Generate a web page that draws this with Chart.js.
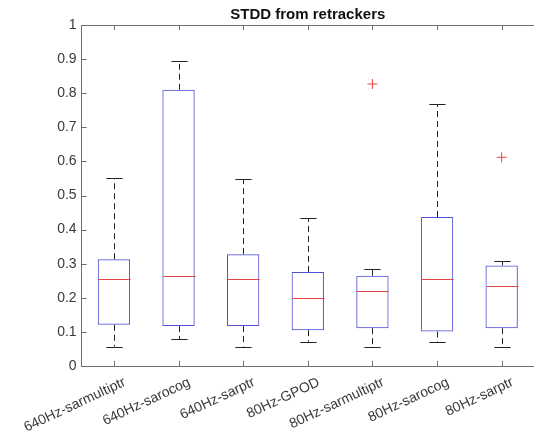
<!DOCTYPE html>
<html>
<head>
<meta charset="utf-8">
<script src="https://cdn.jsdelivr.net/npm/chart.js@4.4.1/dist/chart.umd.min.js"></script>
<style>
  html, body { margin: 0; padding: 0; background: #fff; }
  #wrap { width: 534px; height: 441px; }
</style>
</head>
<body>
<div id="wrap"><canvas id="box" width="534" height="441"></canvas></div>
<script>
// boxplot statistics per retracker
const categories = ['640Hz-sarmultiptr', '640Hz-sarocog', '640Hz-sarptr', '80Hz-GPOD',
                    '80Hz-sarmultiptr', '80Hz-sarocog', '80Hz-sarptr'];
const whiskerLow  = [0.057, 0.078, 0.057, 0.071, 0.055, 0.069, 0.055];
const q1          = [0.121, 0.117, 0.117, 0.105, 0.111, 0.101, 0.111];
const median      = [0.256, 0.265, 0.256, 0.200, 0.220, 0.256, 0.235];
const q3          = [0.313, 0.810, 0.328, 0.276, 0.265, 0.437, 0.295];
const whiskerHigh = [0.551, 0.893, 0.547, 0.433, 0.284, 0.767, 0.307];
const outliers    = [null, null, null, null, 0.827, null, 0.612];

const AXIS = '#6e6e6e';
const TEXT = '#3a3a3a';
const BLUE = 'rgb(80,80,215)';
const RED = 'rgb(232,70,70)';
const FONT = "'Liberation Sans', Arial, Helvetica, sans-serif";

// whiskers, caps, medians and the top edge with inward ticks
const boxExtras = {
  id: 'boxExtras',
  afterDatasetsDraw(chart) {
    const ctx = chart.ctx;
    const xs = chart.scales.x, ys = chart.scales.y;
    const bars = chart.getDatasetMeta(0).data;
    ctx.save();
    categories.forEach((c, i) => {
      const x = Math.round(xs.getPixelForValue(i)) + 0.5;
      const half = bars[i].width / 2;
      const capHalf = half / 2;
      const yLo = ys.getPixelForValue(whiskerLow[i]);
      const yQ1 = ys.getPixelForValue(q1[i]);
      const yQ3 = ys.getPixelForValue(q3[i]);
      const yHi = ys.getPixelForValue(whiskerHigh[i]);
      const yMed = ys.getPixelForValue(median[i]);

      ctx.strokeStyle = '#222';
      ctx.lineWidth = 1;
      ctx.setLineDash([6, 4]);
      ctx.beginPath();
      ctx.moveTo(x, yQ3); ctx.lineTo(x, yHi);
      ctx.moveTo(x, yQ1); ctx.lineTo(x, yLo);
      ctx.stroke();

      ctx.setLineDash([]);
      ctx.beginPath();
      ctx.moveTo(x - capHalf, Math.round(yHi) + 0.5); ctx.lineTo(x + capHalf, Math.round(yHi) + 0.5);
      ctx.moveTo(x - capHalf, Math.round(yLo) + 0.5); ctx.lineTo(x + capHalf, Math.round(yLo) + 0.5);
      ctx.stroke();

      ctx.strokeStyle = RED;
      ctx.beginPath();
      ctx.moveTo(x - half, Math.round(yMed) + 0.5);
      ctx.lineTo(x + half, Math.round(yMed) + 0.5);
      ctx.stroke();
    });
    ctx.restore();
  },
  afterDraw(chart) {
    const ctx = chart.ctx;
    const a = chart.chartArea;
    const xs = chart.scales.x, ys = chart.scales.y;
    const t = 5;
    ctx.save();
    ctx.strokeStyle = AXIS;
    ctx.lineWidth = 1;
    ctx.beginPath();
    // top edge of the box (right edge sits at the canvas border)
    ctx.moveTo(a.left, Math.round(a.top) + 0.5);
    ctx.lineTo(a.right, Math.round(a.top) + 0.5);
    ys.ticks.forEach((tk, i) => {
      const y = Math.round(ys.getPixelForTick(i)) + 0.5;
      ctx.moveTo(a.left, y); ctx.lineTo(a.left + t, y);
    });
    xs.ticks.forEach((tk, i) => {
      const x = Math.round(xs.getPixelForValue(i)) + 0.5;
      ctx.moveTo(x, a.bottom); ctx.lineTo(x, a.bottom - t);
      ctx.moveTo(x, a.top); ctx.lineTo(x, a.top + t);
    });
    ctx.stroke();
    ctx.restore();
  }
};

new Chart(document.getElementById('box'), {
  type: 'bar',
  data: {
    labels: categories,
    datasets: [
      {
        data: q1.map((v, i) => [v, q3[i]]),
        backgroundColor: 'rgba(0,0,0,0)',
        borderColor: BLUE,
        borderWidth: 1,
        borderSkipped: false,
        barPercentage: 0.5,
        categoryPercentage: 1
      },
      {
        type: 'line',
        data: outliers,
        showLine: false,
        pointStyle: 'cross',
        pointRadius: 5,
        pointBorderWidth: 1,
        borderColor: RED,
        backgroundColor: RED
      }
    ]
  },
  options: {
    responsive: false,
    animation: false,
    layout: { autoPadding: false, padding: { left: 0, right: -0.3, top: 0, bottom: 0 } },
    plugins: {
      legend: { display: false },
      tooltip: { enabled: false },
      title: {
        display: true,
        fullSize: false,
        text: 'STDD from retrackers',
        color: '#111',
        font: { family: FONT, size: 15, weight: 'bold' },
        padding: { top: 6, bottom: 1 }
      }
    },
    scales: {
      x: {
        grid: { display: false, drawTicks: false },
        border: { display: true, color: AXIS },
        ticks: {
          color: TEXT,
          font: { family: FONT, size: 14 },
          minRotation: 25,
          maxRotation: 25,
          padding: 8,
          labelOffset: 11,
          autoSkip: false
        },
        afterFit(s) {
          s.height = 75;
          s.paddingLeft = 0;
          s.paddingRight = 0;
        }
      },
      y: {
        min: 0,
        max: 1,
        grid: { display: false, drawTicks: false },
        border: { display: true, color: AXIS },
        ticks: {
          stepSize: 0.1,
          color: TEXT,
          font: { family: FONT, size: 14 },
          padding: 5,
          callback: v => String(Number(v.toFixed(2)))
        },
        afterFit(s) { s.width = 81.6; }
      }
    }
  },
  plugins: [boxExtras]
});
</script>
</body>
</html>
